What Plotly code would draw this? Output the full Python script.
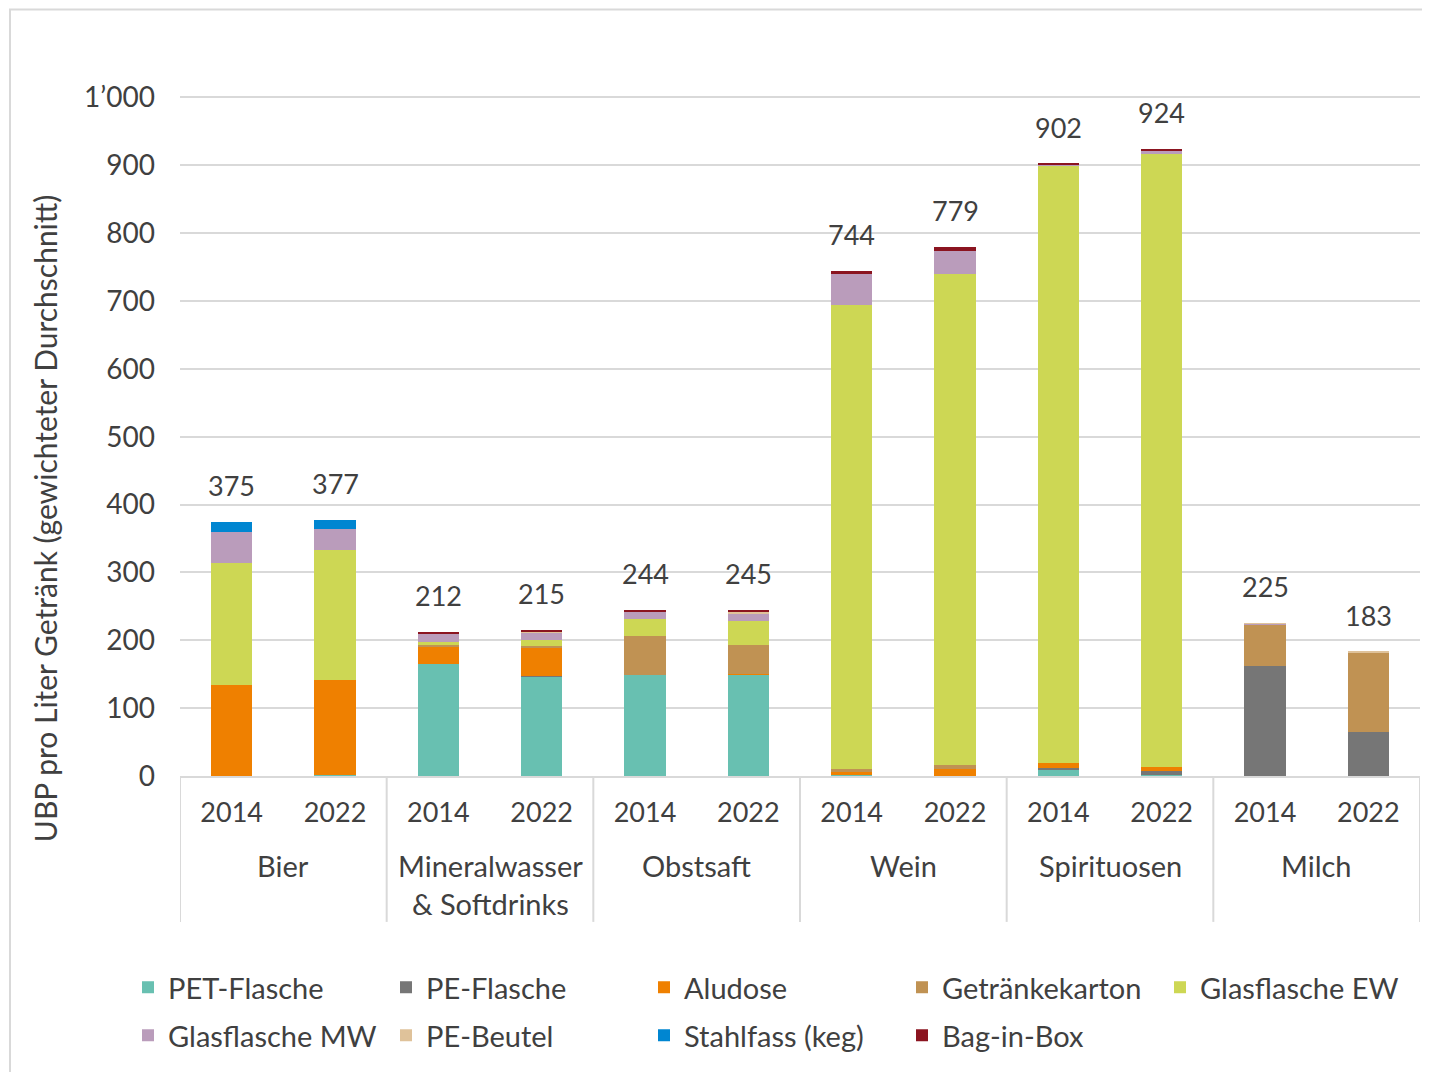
import plotly.graph_objects as go

group_names = ["Bier", "Mineralwasser<br>& Softdrinks", "Obstsaft", "Wein", "Spirituosen", "Milch"]
year_labels = ["2014", "2022"]

groups = [g for g in group_names for _ in year_labels]
years = year_labels * len(group_names)
keys = [f"{g}|{y}" for g, y in zip(groups, years)]

pet_flasche = [0, 1, 165, 147, 149, 150, 1, 0, 10, 1, 0, 0]
pe_flasche = [0, 0, 0, 1, 0, 0, 0, 0, 2, 7, 162, 65]
aludose = [134, 141, 25, 40, 0, 1, 5, 11, 7, 5, 0, 0]
getraenkekarton = [0, 0, 3, 4, 57, 42, 4, 5, 0, 0, 61, 117]
glas_ew = [180, 191, 5, 9, 25, 35, 684, 724, 881, 904, 0, 0]
glas_mw = [45, 31, 12, 11, 10, 11, 46, 33, 1, 4, 1, 0]
pe_beutel = [0, 0, 0, 1, 0, 4, 0, 0, 0, 0, 1, 1]
stahlfass = [16, 13, 0, 0, 0, 0, 0, 0, 0, 0, 0, 0]
bag_in_box = [0, 0, 2, 2, 3, 2, 4, 6, 1, 3, 0, 0]
totals = [375, 377, 212, 215, 244, 245, 744, 779, 902, 924, 225, 183]

series = [
    ("PET-Flasche", pet_flasche, "#68C0B1"),
    ("PE-Flasche", pe_flasche, "#767676"),
    ("Aludose", aludose, "#EF8000"),
    ("Getränkekarton", getraenkekarton, "#C09253"),
    ("Glasflasche EW", glas_ew, "#CDD754"),
    ("Glasflasche MW", glas_mw, "#BA9CBB"),
    ("PE-Beutel", pe_beutel, "#DFC29A"),
    ("Stahlfass (keg)", stahlfass, "#0086D1"),
    ("Bag-in-Box", bag_in_box, "#8B1420"),
]

FONT = "Lato"
TXT = "#404040"
GRID = "#d9d9d9"
WORD = 29
NUM = 27

OFF = 8  # page body margin
W, H = 1422, 1064
Y_TOP = 1005  # axis range top (slightly above the 1000 gridline)
# plot area in page pixels: x 180..1420, y(0)=776, y(1000)=97
PX_PER_UNIT = (776 - 97) / 1000
plot_top_page = 776 - Y_TOP * PX_PER_UNIT
L = 180 - OFF
R = W - (1420 - OFF)
T = plot_top_page - OFF
B = H - (776 - OFF)
pw = W - L - R
ph = H - T - B


def py(page_y):
    return (H - B - (page_y - OFF)) / ph


def px(page_x):
    return ((page_x - OFF) - L) / pw


fig = go.Figure()
for i, (name, vals, col) in enumerate(series):
    fig.add_trace(go.Bar(x=keys, y=vals, name=name,
                         legend="legend" if i < 5 else "legend2",
                         marker=dict(color=col, line=dict(width=0))))

for k, t in zip(keys, totals):
    fig.add_annotation(x=k, y=t, text=str(t), showarrow=False, yanchor="bottom",
                       yshift=18, font=dict(size=NUM, color=TXT, family=FONT))

n = len(keys)
per = len(year_labels)
for gi, g in enumerate(group_names):
    fig.add_annotation(x=gi * per + (per - 1) / 2, xref="x", y=py(846), yref="paper",
                       text=g, showarrow=False, yanchor="top", align="center",
                       font=dict(size=WORD, color=TXT, family=FONT))
for b in range(0, n + 1, per):
    fig.add_shape(type="line", xref="x", yref="paper", x0=b - 0.5, x1=b - 0.5,
                  y0=0, y1=py(922), line=dict(color=GRID, width=2))

leg_common = dict(orientation="h", xanchor="left", yanchor="top", x=px(128),
                  traceorder="normal", entrywidth=213, entrywidthmode="pixels",
                  itemwidth=30, font=dict(size=WORD, color=TXT, family=FONT))

fig.update_layout(
    width=W, height=H,
    margin=dict(l=L, r=R, t=T, b=B, autoexpand=False),
    barmode="stack", bargap=0.6,
    plot_bgcolor="white", paper_bgcolor="white",
    separators=".’",
    font=dict(family=FONT, size=NUM, color=TXT),
    legend=dict(y=py(962), **leg_common),
    legend2=dict(y=py(1010), **leg_common),
    showlegend=True,
)
fig.update_xaxes(type="category", tickvals=keys, ticktext=years, showline=True,
                 linecolor=GRID, linewidth=2, ticks="", ticklabelstandoff=12,
                 range=[-0.5, n - 0.5], automargin=False,
                 tickfont=dict(size=NUM, color=TXT, family=FONT))
fig.update_yaxes(range=[0, Y_TOP], dtick=100, tickformat=",", showgrid=True,
                 gridcolor=GRID, gridwidth=2, zeroline=False, automargin=False,
                 tickfont=dict(size=28, color=TXT, family=FONT), ticklabelstandoff=24)

fig.add_annotation(text="UBP pro Liter Getränk (gewichteter Durchschnitt)",
                   xref="paper", yref="paper", x=px(45), y=py(519),
                   textangle=-90, showarrow=False, xanchor="center", yanchor="middle",
                   font=dict(size=30, color=TXT, family=FONT))

fig.add_shape(type="rect", xref="paper", yref="paper",
              x0=px(10), x1=px(1445), y0=py(1090), y1=py(9),
              line=dict(color=GRID, width=2), fillcolor="rgba(0,0,0,0)", layer="below")

fig.write_html("out.html")
